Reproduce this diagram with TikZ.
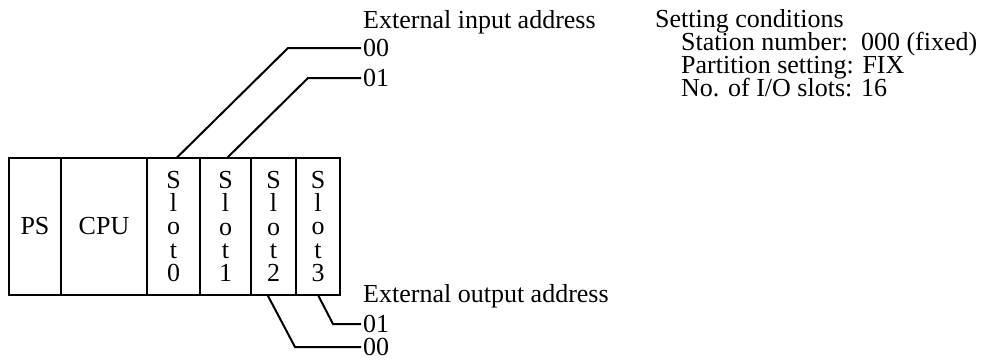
\documentclass[tikz,border=0pt]{standalone}
\usepackage{fontspec}
\setmainfont{Liberation Serif}
\usetikzlibrary{positioning,calc}
\newcommand\plcfont{\fontsize{26}{23.3}\selectfont}
\tikzset{
  unit/.style={draw, line width=2pt, outer sep=0pt, inner sep=0pt,
               minimum height=137pt, align=center, font=\plcfont},
  wire/.style={line width=2pt},
  lbl/.style={font=\plcfont, inner sep=2pt},
}
\begin{document}
\begin{tikzpicture}[x=1pt,y=-1pt]
  \useasboundingbox (0,0) rectangle (983,359);
  % base unit
  \node[unit,minimum width=52pt] (ps) at (35,226.5) {PS};
  \node[unit,minimum width=86pt,right=0pt of ps] (cpu) {CPU};
  \node[unit,minimum width=53pt,right=0pt of cpu] (s0) {S\\l\\o\\t\\0};
  \node[unit,minimum width=51pt,right=0pt of s0] (s1) {S\\l\\o\\t\\1};
  \node[unit,minimum width=45pt,right=0pt of s1] (s2) {S\\l\\o\\t\\2};
  \node[unit,minimum width=44pt,right=0pt of s2] (s3) {S\\l\\o\\t\\3};
  % addresses
  \node[lbl,anchor=base west] (intitle) at (361,28) {External input address};
  \node[lbl,anchor=west] (in0) at (361,48) {00};
  \node[lbl,anchor=west] (in1) at (361,78) {01};
  \node[lbl,anchor=base west] (outtitle) at (361,302) {External output address};
  \node[lbl,anchor=west] (out1) at (361,324) {01};
  \node[lbl,anchor=west] (out0) at (361,347) {00};
  \coordinate (kin0) at (288,48);
  \coordinate (kin1) at (308,78);
  \coordinate (kout0) at (295,347);
  \coordinate (kout1) at (333,324);
  \draw[wire] ([xshift=3pt]s0.north) -- (kin0) -- (in0.west);
  \draw[wire] ([xshift=1.5pt]s1.north) -- (kin1) -- (in1.west);
  \draw[wire] ([xshift=-6pt]s2.south) -- (kout0) -- (out0.west);
  \draw[wire] (s3.south) -- (kout1) -- (out1.west);
  % settings
  \node[lbl,anchor=base west] (cond) at (653,27) {Setting conditions};
  \node[lbl,anchor=base west] (stn) at ([xshift=26pt,yshift=-23.3pt]cond.base west)
    {Station number:\ \ 000 (fixed)};
  \node[lbl,anchor=base west] (part) at ([yshift=-23.3pt]stn.base west)
    {Partition setting: FIX};
  \node[lbl,anchor=base west] (slots) at ([yshift=-23.3pt]part.base west)
    {No. of I/O slots: 16};
\end{tikzpicture}
\end{document}
